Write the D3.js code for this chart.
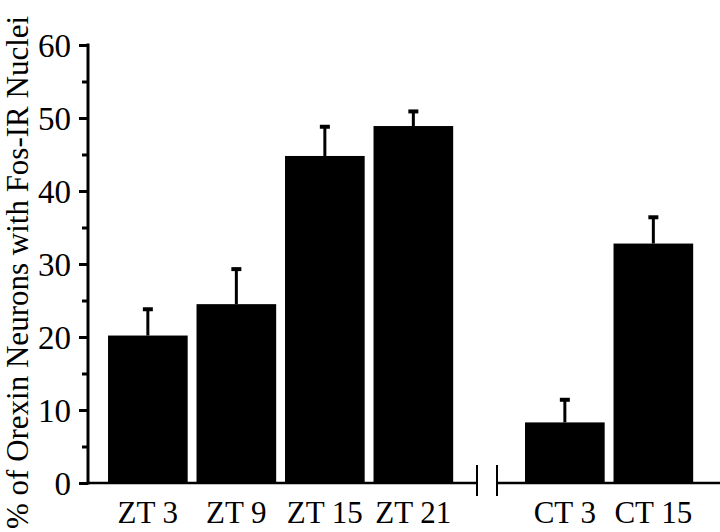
<!DOCTYPE html>
<html><head><meta charset="utf-8">
<script src="https://cdn.jsdelivr.net/npm/d3@7"></script>
<style>body{margin:0;background:#fff}svg{display:block}text{font-family:"Liberation Serif","Times New Roman",serif;fill:#000}</style>
</head><body><svg id="c" width="720" height="532"></svg>
<script>
const ztCategories = ["ZT 3","ZT 9","ZT 15","ZT 21"];
const ztValues = [20.2, 24.5, 44.8, 48.9];
const ztErrors = [3.6, 4.8, 4.0, 2.0];
const ctCategories = ["CT 3","CT 15"];
const ctValues = [8.3, 32.8];
const ctErrors = [3.1, 3.6];
const yTicks = [0,10,20,30,40,50,60];
const yMinorTicks = [5,15,25,35,45,55];
const yLabel = "% of Orexin Neurons with Fos-IR Nuclei";

const svg = d3.select("#c");
const y = d3.scaleLinear().domain([0,60]).range([483,45]);
const xZT = d3.scaleBand().domain(ztCategories).range([103.6,457.6]).paddingInner(0.1).paddingOuter(0.05);
const xCT = d3.scaleBand().domain(ctCategories).range([520.6,697.6]).paddingInner(0.1).paddingOuter(0.05);
const axisX = 88, breakL = 477, breakR = 497;

function drawGroup(cats, vals, errs, x){
  const data = cats.map((c,i)=>({c, v:vals[i], e:errs[i]}));
  const g = svg.append("g");
  g.selectAll("rect").data(data).join("rect")
    .attr("x", d=>x(d.c)).attr("width", x.bandwidth())
    .attr("y", d=>y(d.v)).attr("height", d=>y(0)-y(d.v)).attr("fill","#000");
  g.selectAll("line.err").data(data).join("line").attr("class","err")
    .attr("x1", d=>x(d.c)+x.bandwidth()/2).attr("x2", d=>x(d.c)+x.bandwidth()/2)
    .attr("y1", d=>y(d.v)).attr("y2", d=>y(d.v+d.e)).attr("stroke","#000").attr("stroke-width",3);
  g.selectAll("line.cap").data(data).join("line").attr("class","cap")
    .attr("x1", d=>x(d.c)+x.bandwidth()/2-5).attr("x2", d=>x(d.c)+x.bandwidth()/2+5)
    .attr("y1", d=>y(d.v+d.e)).attr("y2", d=>y(d.v+d.e)).attr("stroke","#000").attr("stroke-width",4);
  g.selectAll("text").data(data).join("text")
    .attr("x", d=>x(d.c)+x.bandwidth()/2).attr("y", 523)
    .attr("text-anchor","middle").attr("font-size",31).text(d=>d.c);
}
drawGroup(ztCategories, ztValues, ztErrors, xZT);
drawGroup(ctCategories, ctValues, ctErrors, xCT);

// y axis
const ya = svg.append("g").attr("transform",`translate(${axisX},0)`)
  .call(d3.axisLeft(y).tickValues(yTicks).tickSize(9).tickPadding(8).tickFormat(d3.format("d")));
ya.select(".domain").remove();
ya.selectAll(".tick line").attr("stroke","#000").attr("stroke-width",3);
ya.selectAll(".tick text").attr("font-size",33).attr("font-family","Liberation Serif, serif").attr("dy","0.34em");
svg.append("g").attr("transform",`translate(${axisX},0)`)
  .call(d3.axisLeft(y).tickValues(yMinorTicks).tickSize(6).tickFormat(""))
  .call(g=>{g.select(".domain").remove(); g.selectAll(".tick line").attr("stroke","#000").attr("stroke-width",3);});
svg.append("line").attr("x1",axisX).attr("x2",axisX).attr("y1",y(60)-1.5).attr("y2",y(0)+1.5).attr("stroke","#000").attr("stroke-width",3);

// x baseline with break
svg.append("line").attr("x1",axisX).attr("x2",breakL).attr("y1",y(0)).attr("y2",y(0)).attr("stroke","#000").attr("stroke-width",2.5);
svg.append("line").attr("x1",breakR).attr("x2",720).attr("y1",y(0)).attr("y2",y(0)).attr("stroke","#000").attr("stroke-width",2.5);
[breakL, breakR].forEach(bx=>{
  svg.append("line").attr("x1",bx).attr("x2",bx).attr("y1",y(0)-18).attr("y2",y(0)+13).attr("stroke","#000").attr("stroke-width",2);
});

// y label
svg.append("text").attr("transform","translate(28,529) rotate(-90)")
  .attr("text-anchor","start").attr("font-size",31).text(yLabel);
</script></body></html>
